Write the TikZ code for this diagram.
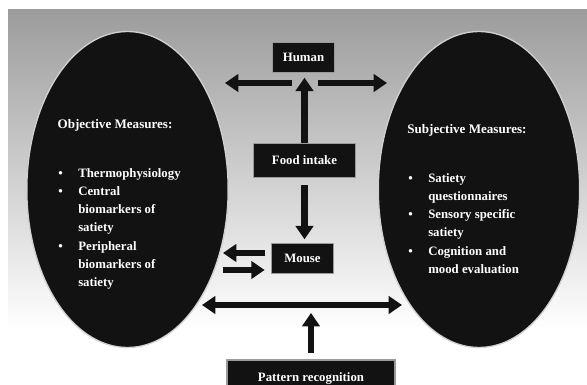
\documentclass[tikz,border=0pt]{standalone}
\usepackage{fontspec}
\setmainfont{Liberation Serif}
\usepackage{xcolor}
\usepackage{tikz}
\usetikzlibrary{arrows.meta,positioning,shapes.geometric}
\definecolor{satInk}{HTML}{121212}
\definecolor{satEdge}{HTML}{9A9A9A}
\definecolor{satHalo}{HTML}{D0D0D0}
\definecolor{satFog}{HTML}{9C9C9C}
\tikzset{
    >=Latex,
    egg/.style={ellipse, draw=satHalo, line width=1pt, fill=satInk, minimum width=151pt, minimum height=237pt, inner sep=0pt},
    tagbox/.style={draw=satEdge, line width=0.8pt, fill=satInk, text=white, font=\bfseries\fontsize{9.6}{11}\selectfont, inner sep=0pt},
    heading/.style={text=white, font=\bfseries\fontsize{9.8}{12}\selectfont, inner sep=0pt},
    itemlist/.style={text=white, font=\bfseries\fontsize{9.6}{13.7}\selectfont, align=left, inner sep=0pt, anchor=north west},
    fatarrow/.style={-{Triangle[length=10pt,width=13pt]}, line width=5pt, draw=satInk},
    fatdouble/.style={{Triangle[length=10pt,width=13pt]}-{Triangle[length=10pt,width=13pt]}, line width=5pt, draw=satInk}
}
\newcommand{\bul}[1]{\makebox[15pt][l]{\textbullet}#1}
\newcommand{\cnt}[1]{\hspace*{15pt}#1}

\begin{document}
\begin{tikzpicture}[x=0.75pt, y=-0.75pt]
\useasboundingbox (0,0) rectangle (587,385);
\shade[top color=satFog, bottom color=white] (8,10) rectangle (587,330);
\node[egg] (obj) at (127.5,189.5) {};
\node[egg] (subj) at (479,189.5) {};
\node[heading] (objHead) at (115,125) {Objective Measures:};
\node[heading] (subjHead) at (467,130) {Subjective Measures:};
\node[itemlist] (objList) at (58,168) {\bul{Thermophysiology}\\ \bul{Central}\\ \cnt{biomarkers of}\\ \cnt{satiety}\\ \bul{Peripheral}\\ \cnt{biomarkers of}\\ \cnt{satiety}};
\node[itemlist] (subjList) at (408,173) {\bul{Satiety}\\ \cnt{questionnaires}\\ \bul{Sensory specific}\\ \cnt{satiety}\\ \bul{Cognition and}\\ \cnt{mood evaluation}};
\node[tagbox, minimum width=47pt, minimum height=22pt] (human) at (303.5,57.5) {Human};
\node[tagbox, minimum width=76pt, minimum height=26pt] (food) at (304.5,160.5) {Food intake};
\node[tagbox, minimum width=47pt, minimum height=22pt] (mouse) at (302.5,258.5) {Mouse};
\node[tagbox, minimum width=126pt, minimum height=27pt] (pattern) at (311,378) {Pattern recognition};
\coordinate (armLs) at (292,83);
\coordinate (armL) at (225,83);
\coordinate (armRs) at (318,83);
\coordinate (armR) at (387,83);
\coordinate (backL) at (223,253);
\coordinate (backR) at (223,270);
\coordinate (linkL) at (202,305);
\coordinate (linkR) at (402,305);
\draw[fatarrow] (armLs) -- (armL);
\draw[fatarrow] (armRs) -- (armR);
\draw[fatarrow, shorten >=3.75pt] (food.north) -- (food.north |- human.south);
\draw[fatarrow, shorten <=5pt, shorten >=3pt] (food.south) -- (food.south |- mouse.north);
\draw[fatarrow, shorten <=4.5pt] (mouse.west |- backL) -- (backL);
\draw[fatarrow, shorten >=4.5pt] (backR) -- (backR -| mouse.west);
\draw[fatdouble] (linkL) -- (linkR);
\draw[fatarrow, shorten <=5pt, shorten >=6pt] (pattern.north) -- (pattern.north |- linkL);
\end{tikzpicture}
\end{document}
